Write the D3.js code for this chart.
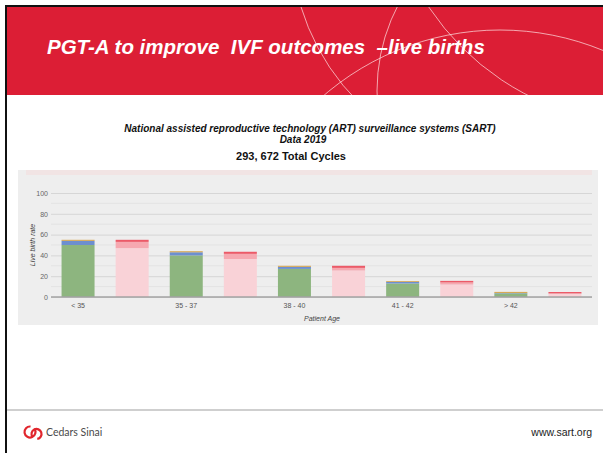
<!DOCTYPE html>
<html>
<head>
<meta charset="utf-8">
<script src="https://cdn.jsdelivr.net/npm/d3@7"></script>
<style>
  html, body { margin: 0; padding: 0; background: #fff; }
  svg { display: block; font-family: "Liberation Sans", Arial, sans-serif; }
</style>
</head>
<body>
<div id="main"></div>
<script>
// age groups and stacked live birth rates (%)
const categories = ['< 35', '35 - 37', '38 - 40', '41 - 42', '> 42'];
const series = ['pgt', 'non'];
// PGT-A cycles
const pgtGreen = [50, 40, 27, 13, 3.5];
const pgtBlue = [4, 3, 2, 1.5, 0.4];
const pgtOrange = [1, 1, 1, 0.8, 1];
// non PGT-A cycles
const nonLight = [47, 36.5, 25.5, 12, 3];
const nonMid = [6, 5, 2.5, 2, 0.5];
const nonRed = [2, 2, 2, 1.5, 1.3];
const yTicks = [0, 20, 40, 60, 80, 100];
const yMinor = [10, 30, 50, 70, 90];

const width = 603;
const height = 453;

const svg = d3.select('#main')
  .append('svg')
  .attr('width', width)
  .attr('height', height);

// slide frame
svg.append('rect').attr('x', 0).attr('y', 0).attr('width', width).attr('height', height).attr('fill', '#fff');
svg.append('rect').attr('x', 5).attr('y', 5).attr('width', width - 5).attr('height', 2).attr('fill', '#111');
svg.append('rect').attr('x', 5).attr('y', 5).attr('width', 2).attr('height', height - 5).attr('fill', '#111');

// red header band
svg.append('rect')
  .attr('x', 7).attr('y', 7)
  .attr('width', width - 7).attr('height', 88)
  .attr('fill', '#dc1e35');

svg.append('clipPath').attr('id', 'band')
  .append('rect').attr('x', 7).attr('y', 7).attr('width', width - 7).attr('height', 88);

// thin decorative circles in the header
const rings = [[520, -60, 229], [500, 300, 270], [563, 91, 186], [647, -138, 262]];
svg.append('g')
  .attr('clip-path', 'url(#band)')
  .selectAll('circle')
  .data(rings)
  .enter()
  .append('circle')
  .attr('cx', d => d[0])
  .attr('cy', d => d[1])
  .attr('r', d => d[2])
  .attr('fill', 'none')
  .attr('stroke', 'rgba(255,235,235,0.75)')
  .attr('stroke-width', 0.9);

svg.append('text')
  .attr('x', 47)
  .attr('y', 54)
  .style('font-size', '20.5px')
  .style('font-weight', 'bold')
  .style('font-style', 'italic')
  .style('white-space', 'pre')
  .attr('fill', '#fff')
  .text('PGT-A to improve  IVF outcomes  \u2013live births');

// chart titles
svg.append('text')
  .attr('x', 310).attr('y', 132)
  .attr('text-anchor', 'middle')
  .style('font-size', '10px').style('font-weight', 'bold').style('font-style', 'italic')
  .attr('fill', '#111')
  .text('National assisted reproductive technology (ART) surveillance systems (SART)');
svg.append('text')
  .attr('x', 303).attr('y', 143)
  .attr('text-anchor', 'middle')
  .style('font-size', '10px').style('font-weight', 'bold').style('font-style', 'italic')
  .attr('fill', '#111')
  .text('Data 2019');
svg.append('text')
  .attr('x', 291).attr('y', 160)
  .attr('text-anchor', 'middle')
  .style('font-size', '11px').style('font-weight', 'bold')
  .attr('fill', '#111')
  .text('293, 672 Total Cycles');

// chart panel
svg.append('rect').attr('x', 18).attr('y', 170).attr('width', 580).attr('height', 155).attr('fill', '#eeeeee');
svg.append('rect').attr('x', 26).attr('y', 170).attr('width', 566).attr('height', 5).attr('fill', '#f1e4e4');

const left = 51;
const right = 592;
const yScale = d3.scaleLinear().domain([0, 100]).range([297, 193]);
const xOuter = d3.scaleBand().domain(categories).range([left, right]);
const xInner = d3.scaleBand().domain(series).range([0, xOuter.bandwidth()])
  .paddingInner(0.39).paddingOuter(0.195);

// minor grid
svg.append('g')
  .selectAll('line')
  .data(yMinor)
  .enter()
  .append('line')
  .attr('x1', left).attr('x2', right)
  .attr('y1', d => yScale(d)).attr('y2', d => yScale(d))
  .attr('stroke', '#e3e3e3');

// y axis with major grid
const yAxis = d3.axisLeft(yScale)
  .tickValues(yTicks)
  .tickSizeInner(-(right - left))
  .tickSizeOuter(0)
  .tickPadding(3);
const yG = svg.append('g')
  .attr('transform', `translate(${left},0)`)
  .call(yAxis);
yG.select('.domain').remove();
yG.selectAll('.tick line').attr('stroke', '#d6d6d6');
yG.selectAll('.tick text')
  .attr('fill', '#666')
  .style('font-size', '7px')
  .style('font-family', '"Liberation Sans", Arial, sans-serif');

// stacked bars
const pgtRows = categories.map((c, i) => ({ cat: c, a: pgtGreen[i], b: pgtBlue[i], c: pgtOrange[i] }));
const nonRows = categories.map((c, i) => ({ cat: c, a: nonLight[i], b: nonMid[i], c: nonRed[i] }));
const stack = d3.stack().keys(['a', 'b', 'c']);
const groups = [
  { key: 'pgt', rows: pgtRows, colors: ['#8db57f', '#6d8fcf', '#d7a54c'] },
  { key: 'non', rows: nonRows, colors: ['#f9d2d7', '#f6a8b0', '#ec5a68'] }
];

groups.forEach(g => {
  const layers = stack(g.rows);
  svg.append('g')
    .selectAll('g')
    .data(layers)
    .enter()
    .append('g')
    .attr('fill', (d, i) => g.colors[i])
    .selectAll('rect')
    .data(d => d)
    .enter()
    .append('rect')
    .attr('x', d => xOuter(d.data.cat) + xInner(g.key))
    .attr('width', xInner.bandwidth())
    .attr('y', d => yScale(d[1]))
    .attr('height', d => yScale(d[0]) - yScale(d[1]));
});

// baseline
svg.append('line')
  .attr('x1', left).attr('x2', right)
  .attr('y1', yScale(0)).attr('y2', yScale(0))
  .attr('stroke', '#a3a3a3')
  .attr('stroke-width', 1.5);

// category labels sit under the PGT-A bars
svg.append('g')
  .selectAll('text')
  .data(categories)
  .enter()
  .append('text')
  .attr('x', d => xOuter(d) + xInner('pgt') + xInner.bandwidth() / 2)
  .attr('y', 308)
  .attr('text-anchor', 'middle')
  .attr('fill', '#555')
  .style('font-size', '7px')
  .text(d => d);

// axis titles
svg.append('text')
  .attr('x', 322).attr('y', 321)
  .attr('text-anchor', 'middle')
  .attr('fill', '#444')
  .style('font-size', '7px').style('font-style', 'italic')
  .text('Patient Age');
svg.append('text')
  .attr('transform', 'rotate(-90)')
  .attr('x', -245).attr('y', 35)
  .attr('text-anchor', 'middle')
  .attr('fill', '#444')
  .style('font-size', '7px').style('font-style', 'italic')
  .text('Live birth rate');

// footer
svg.append('line')
  .attr('x1', 7).attr('x2', width)
  .attr('y1', 410).attr('y2', 410)
  .attr('stroke', '#a0a0a0')
  .attr('stroke-width', 1.2);

const logo = svg.append('g')
  .attr('fill', 'none')
  .attr('stroke', '#e1262d')
  .attr('stroke-width', 2.2)
  .attr('stroke-linecap', 'round');
const arc = d3.arc();
logo.append('path')
  .attr('transform', 'translate(30,432)')
  .attr('d', arc({ innerRadius: 5.5, outerRadius: 5.5, startAngle: 0.9, endAngle: 2 * Math.PI + 0.1 }));
logo.append('path')
  .attr('transform', 'translate(36.5,434)')
  .attr('d', arc({ innerRadius: 5, outerRadius: 5, startAngle: -2.2, endAngle: Math.PI * 0.95 }));

svg.append('text')
  .attr('x', 46).attr('y', 436)
  .attr('fill', '#4a4a4a')
  .style('font-size', '10.5px')
  .style('font-family', 'Lato, "Noto Sans", sans-serif')
  .text('Cedars Sinai');

svg.append('text')
  .attr('x', 592).attr('y', 436)
  .attr('text-anchor', 'end')
  .attr('fill', '#222')
  .style('font-size', '10.5px')
  .text('www.sart.org');
</script>
</body>
</html>
